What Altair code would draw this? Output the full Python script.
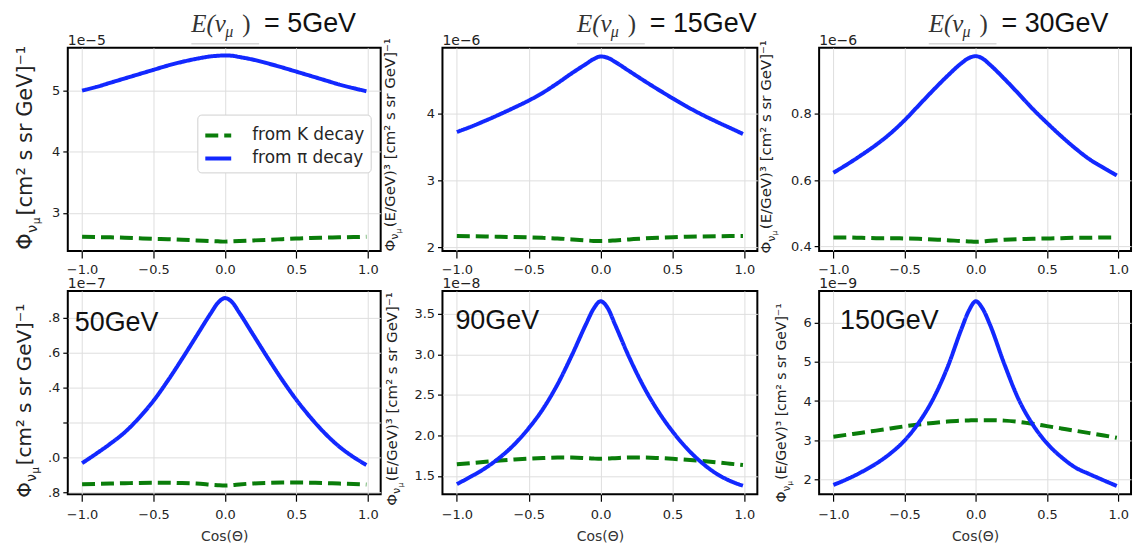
import altair as alt
import pandas as pd

# ---------------- data ----------------
cos_theta = [-1.0, -0.9, -0.8, -0.7, -0.6, -0.5, -0.4, -0.3, -0.2, -0.1, -0.05, 0.0,
             0.05, 0.1, 0.2, 0.3, 0.4, 0.5, 0.6, 0.7, 0.8, 0.9, 0.99]

# 5 GeV (x 1e-5)
pi_5 = [5.00, 5.06, 5.13, 5.20, 5.27, 5.34, 5.41, 5.47, 5.52, 5.56, 5.57, 5.575,
        5.57, 5.55, 5.505, 5.445, 5.38, 5.31, 5.24, 5.17, 5.10, 5.04, 4.99]
k_5 = [2.61, 2.605, 2.60, 2.595, 2.585, 2.575, 2.57, 2.56, 2.55, 2.54, 2.535, 2.53,
       2.535, 2.54, 2.55, 2.56, 2.57, 2.58, 2.59, 2.595, 2.60, 2.605, 2.61]
# 15 GeV (x 1e-6)
pi_15 = [3.73, 3.81, 3.90, 3.995, 4.095, 4.20, 4.32, 4.46, 4.61, 4.75, 4.82, 4.86,
         4.84, 4.78, 4.64, 4.50, 4.365, 4.235, 4.11, 3.995, 3.89, 3.79, 3.70]
k_15 = [2.17, 2.168, 2.165, 2.16, 2.155, 2.15, 2.143, 2.135, 2.12, 2.105, 2.098, 2.095,
        2.098, 2.105, 2.12, 2.135, 2.145, 2.153, 2.16, 2.165, 2.168, 2.17, 2.17]
# 30 GeV (x 1e-6)
pi_30 = [0.622, 0.648, 0.676, 0.706, 0.740, 0.780, 0.825, 0.870, 0.913, 0.952, 0.967, 0.973,
         0.965, 0.947, 0.905, 0.860, 0.814, 0.772, 0.732, 0.695, 0.662, 0.636, 0.614]
k_30 = [0.427, 0.427, 0.426, 0.425, 0.425, 0.424, 0.423, 0.421, 0.419, 0.416, 0.415, 0.414,
        0.415, 0.417, 0.420, 0.422, 0.423, 0.424, 0.425, 0.426, 0.426, 0.427, 0.427]
# 50 GeV (x 1e-7)
pi_50 = [0.967, 1.022, 1.08, 1.145, 1.228, 1.325, 1.44, 1.565, 1.695, 1.825, 1.885, 1.913,
         1.89, 1.83, 1.70, 1.57, 1.445, 1.33, 1.228, 1.138, 1.062, 1.002, 0.957]
k_50 = [0.846, 0.848, 0.850, 0.852, 0.854, 0.855, 0.855, 0.853, 0.850, 0.844, 0.841, 0.839,
        0.841, 0.845, 0.851, 0.854, 0.856, 0.856, 0.855, 0.853, 0.850, 0.848, 0.845]
# 90 GeV (x 1e-8)
pi_90 = [1.40, 1.495, 1.60, 1.73, 1.89, 2.09, 2.33, 2.63, 2.99, 3.38, 3.56, 3.656,
         3.57, 3.37, 2.96, 2.60, 2.30, 2.05, 1.84, 1.67, 1.535, 1.44, 1.38]
k_90 = [1.644, 1.66, 1.675, 1.69, 1.703, 1.713, 1.722, 1.728, 1.728, 1.72, 1.715, 1.712,
        1.715, 1.72, 1.728, 1.728, 1.722, 1.712, 1.70, 1.686, 1.67, 1.652, 1.635]
# 150 GeV (x 1e-9)
pi_150 = [1.855, 2.01, 2.19, 2.40, 2.66, 2.99, 3.45, 4.05, 4.85, 5.85, 6.30, 6.55,
          6.35, 5.95, 4.95, 4.05, 3.40, 2.92, 2.57, 2.30, 2.13, 1.97, 1.83]
k_150 = [3.09, 3.14, 3.19, 3.245, 3.30, 3.355, 3.40, 3.44, 3.475, 3.50, 3.505, 3.51,
         3.51, 3.51, 3.50, 3.47, 3.42, 3.36, 3.30, 3.24, 3.18, 3.12, 3.06]

series_labels = ["from K decay", "from π decay"]
top_energies = ["5GeV", "15GeV", "30GeV"]
bottom_energies = ["50GeV", "90GeV", "150GeV"]
exponents = ["1e−5", "1e−6", "1e−6", "1e−7", "1e−8", "1e−9"]
x_ticks = [-1.0, -0.5, 0.0, 0.5, 1.0]
y_ticks = [[3, 4, 5], [2, 3, 4], [0.4, 0.6, 0.8],
           [0.8, 1.0, 1.2, 1.4, 1.6, 1.8], [1.5, 2.0, 2.5, 3.0, 3.5], [2, 3, 4, 5, 6]]
y_domains = [[2.375, 5.70], [1.945, 4.99], [0.386, 0.998],
             [0.789, 1.954], [1.275, 3.783], [1.618, 6.815]]
x_title = "Cos(Θ)"
ylab_short = " [cm² s sr GeV]⁻¹"
ylab_long = " (E/GeV)³ [cm² s sr GeV]⁻¹"

# ---------------- styling ----------------
FONT = "DejaVu Sans"
SANS = "Liberation Sans"
SERIF = "Liberation Serif"
GREEN = "#0a7d0a"
BLUE = "#1228ff"
X_DOMAIN = [-1.1, 1.09]
H = 204
WIDTHS = [314, 316, 313]

one = alt.Data(values=[{"a": 1}])

W = {' ': 0.318, '[': 0.39, ']': 0.39, '(': 0.39, ')': 0.39, 'c': 0.55, 'm': 0.974,
     's': 0.521, 'r': 0.411, 'G': 0.775, 'e': 0.615, 'V': 0.684, 'E': 0.632, '/': 0.337,
     '²': 0.401, '³': 0.401, '⁻': 0.52, '¹': 0.401}


def tw(s, size):
    return sum(W.get(ch, 0.6) for ch in s) * size


def txt(text, x, y, size, font=FONT, angle=0, style="normal", color="#222222"):
    kw = dict(text=text, fontSize=size, font=font, align="left", baseline="alphabetic",
              color=color, fontStyle=style)
    if angle:
        kw["angle"] = angle
    return alt.Chart(one).mark_text(**kw).encode(x=alt.value(x), y=alt.value(y))


def ytitle(rest, size, bx, cy):
    w_phi = 0.80 * size
    w_nu = 0.59 * size * 0.7
    w_mu = 0.635 * size * 0.5
    gap = 0.1 * size
    total = w_phi + w_nu + w_mu + gap + tw(rest, size)
    y0 = cy + total / 2
    return [
        txt("Φ", bx, y0, size, angle=270),
        txt("ν", bx + 0.25 * size, y0 - w_phi, size * 0.7, angle=270),
        txt("μ", bx + 0.40 * size, y0 - w_phi - w_nu, size * 0.5, angle=270),
        txt(rest, bx, y0 - w_phi - w_nu - w_mu - gap, size, angle=270),
    ]


def top_title(energy, ex):
    return [
        txt("E(ν", ex, -16, 25, font=SERIF, style="italic", color="#333333"),
        txt("μ", ex + 34, -11, 16, font=SERIF, style="italic", color="#333333"),
        txt(")", ex + 51, -16, 25, font=SERIF, color="#333333"),
        txt("= " + energy, ex + 73, -16, 27, font=SANS, color="#111111"),
        alt.Chart(one).mark_rule(color="#c4c4c4", strokeWidth=1).encode(
            x=alt.value(ex), x2=alt.value(ex + 68), y=alt.value(-4)),
    ]


def panel(i, pi_vals, k_vals, row, yl_rest, yl_size, yl_bx, yl_cy,
          yfmt=".1f", label_expr=None, legend=False, extra=None):
    n = len(cos_theta)
    df = pd.DataFrame({
        "cos": cos_theta + cos_theta,
        "flux": k_vals + pi_vals,
        "source": [series_labels[0]] * n + [series_labels[1]] * n,
    })
    yax = dict(values=y_ticks[i], title=None)
    if label_expr:
        yax["labelExpr"] = label_expr
    else:
        yax["format"] = yfmt
    xax = dict(values=x_ticks, format=".1f")
    if row == 2:
        xax["title"] = x_title
        xax["labelPadding"] = 7
    else:
        xax["title"] = None
        xax["labelPadding"] = 5
    if legend:
        leg = alt.Legend(title=None, orient="none", legendX=130, legendY=67,
                         fillColor="white", strokeColor="#d0d0d0", cornerRadius=4,
                         padding=6, rowPadding=0, symbolType="stroke", symbolSize=676,
                         symbolStrokeWidth=4, labelFont=FONT, labelFontSize=17,
                         labelColor="#262626", labelOffset=19, labelLimit=400)
    else:
        leg = None
    lines = alt.Chart(df).mark_line(strokeWidth=4, interpolate="monotone").encode(
        x=alt.X("cos:Q", scale=alt.Scale(domain=X_DOMAIN, nice=False, zero=False),
                axis=alt.Axis(**xax)),
        y=alt.Y("flux:Q", scale=alt.Scale(domain=y_domains[i], nice=False, zero=False),
                axis=alt.Axis(**yax)),
        color=alt.Color("source:N", scale=alt.Scale(domain=series_labels, range=[GREEN, BLUE]),
                        legend=leg),
        strokeDash=alt.StrokeDash("source:N",
                                  scale=alt.Scale(domain=series_labels, range=[[13, 6], [1, 0]]),
                                  legend=leg),
    )
    layers = [lines, txt(exponents[i], 0, -3, 14)]
    layers += ytitle(yl_rest, yl_size, yl_bx, yl_cy)
    if extra:
        layers += extra
    return alt.layer(*layers).properties(width=WIDTHS[i % 3], height=H)


p1 = panel(0, pi_5, k_5, 1, ylab_short, 21, -36, 97, yfmt="d", legend=True,
           extra=top_title(top_energies[0], 124))
p2 = panel(1, pi_15, k_15, 1, ylab_long, 15, -48, 95, yfmt="d",
           extra=top_title(top_energies[1], 135))
p3 = panel(2, pi_30, k_30, 1, ylab_long, 15, -48, 97, yfmt=".1f",
           extra=top_title(top_energies[2], 110))
p4 = panel(3, pi_50, k_50, 2, ylab_short, 20, -37, 107,
           label_expr="datum.value > 1.1 && datum.value < 1.3 ? '' : slice(format(datum.value, '.1f'), 1)",
           extra=[txt(bottom_energies[0], 7, 40, 27, font=SANS, color="#111111")])
p5 = panel(4, pi_90, k_90, 2, ylab_long, 15, -46, 106, yfmt=".1f",
           extra=[txt(bottom_energies[1], 13, 38, 27, font=SANS, color="#111111")])
p6 = panel(5, pi_150, k_150, 2, ylab_long, 14, -33, 110, yfmt="d",
           extra=[txt(bottom_energies[2], 21, 38, 27, font=SANS, color="#111111")])

chart = alt.concat(
    p1, p2, p3, p4, p5, p6, columns=3,
    spacing={"row": 40, "column": 62}, bounds="flush"
).resolve_scale(
    color="independent", strokeDash="independent"
).properties(
    padding={"left": 5, "top": 0, "right": 5, "bottom": 5},
    background="white",
).configure_view(
    stroke="black", strokeWidth=2
).configure_axis(
    grid=True, gridColor="#dedede", gridWidth=1, domain=False,
    ticks=True, tickColor="black", tickWidth=1.2, tickSize=5,
    labelFont=FONT, labelFontSize=13, labelColor="#222222", labelPadding=3,
    titleFont=FONT, titleFontSize=14, titleFontWeight="normal", titleColor="#333333",
).configure_axisX(
    tickSize=7, titlePadding=8
)

chart.save("out.html", embed_options={"renderer": "svg", "actions": False})
